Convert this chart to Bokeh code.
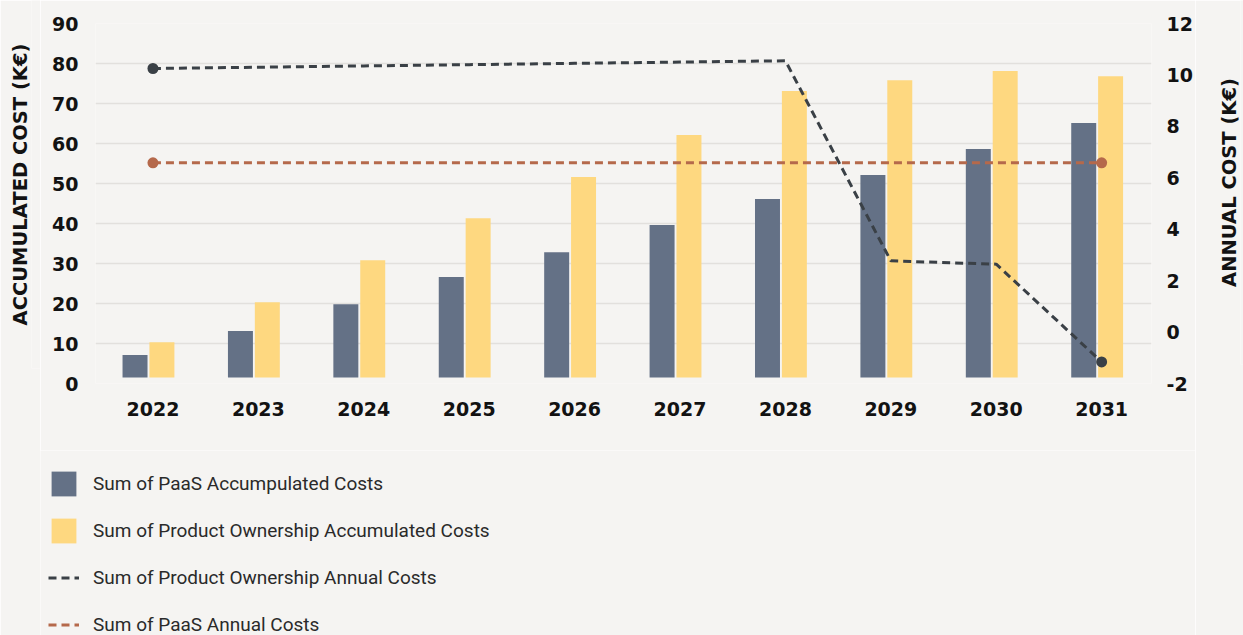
from bokeh.plotting import figure
from bokeh.layouts import column, row
from bokeh.models import (Range1d, LinearAxis, FixedTicker, Legend, LegendItem,
                          ColumnDataSource)
from bokeh.transform import dodge
from bokeh.embed import file_html
from bokeh.resources import INLINE

# ---- data ----
years = [2022, 2023, 2024, 2025, 2026, 2027, 2028, 2029, 2030, 2031]
paas_accumulated = [7.1, 13.1, 19.8, 26.6, 32.8, 39.6, 46.1, 52.1, 58.6, 65.1]
po_accumulated = [10.3, 20.3, 30.8, 41.3, 51.6, 62.1, 73.1, 75.8, 78.1, 76.8]
po_annual = [10.25, 10.3, 10.35, 10.4, 10.45, 10.5, 10.55, 2.77, 2.64, -1.16]
paas_annual = [6.58, 6.58, 6.58, 6.58, 6.58, 6.58, 6.58, 6.58, 6.58, 6.58]
left_ticks = [0, 10, 20, 30, 40, 50, 60, 70, 80, 90]
right_ticks = [-2, 0, 2, 4, 6, 8, 10, 12]
left_title = "ACCUMULATED COST (K€)"
right_title = "ANNUAL COST (K€)"
legend_labels = ["Sum of PaaS Accumpulated Costs",
                 "Sum of Product Ownership Accumulated Costs",
                 "Sum of Product Ownership Annual Costs",
                 "Sum of PaaS Annual Costs"]

# ---- styles ----
BG = "#f5f4f2"
GRID = "#e2e0dd"
C_PAAS = "#647186"
C_PO = "#fed880"
C_DARK = "#3a4046"
C_ORANGE = "#b5694b"
TXT = "#121212"
BOLD_FONT = "DejaVu Sans"
DASH = "8 5"
HAS_FA = hasattr(figure().__class__, "frame_align")

src = ColumnDataSource(dict(year=years, paas_acc=paas_accumulated, po_acc=po_accumulated,
                            po_ann=po_annual, paas_ann=paas_annual))
ends = ColumnDataSource(dict(year=[years[0], years[-1]],
                             po_ann=[po_annual[0], po_annual[-1]],
                             paas_ann=[paas_annual[0], paas_annual[-1]]))


def base(fig):
    fig.background_fill_color = BG
    fig.border_fill_color = BG
    fig.outline_line_color = None
    if HAS_FA:
        fig.frame_align = False
    return fig


# ---- main chart ----
p = figure(width=1155, height=450, output_backend="svg", toolbar_location=None,
           x_range=Range1d(2021.455, 2031.473), y_range=Range1d(left_ticks[0], left_ticks[-1]),
           min_border_left=55, min_border_right=42, min_border_top=23, min_border_bottom=67)
p.background_fill_color = BG
p.border_fill_color = BG
p.outline_line_color = None
p.extra_y_ranges = {"annual": Range1d(right_ticks[0], right_ticks[-1])}

bw = 0.237
p.vbar(x=dodge("year", -0.17), top="paas_acc", bottom=1.5, width=bw, source=src,
       fill_color=C_PAAS, line_color=None)
p.vbar(x=dodge("year", 0.085), top="po_acc", bottom=1.5, width=bw, source=src,
       fill_color=C_PO, line_color=None)
p.line("year", "po_ann", source=src, y_range_name="annual", line_color=C_DARK,
       line_width=3, line_dash=DASH)
p.line("year", "paas_ann", source=src, y_range_name="annual", line_color=C_ORANGE,
       line_width=3, line_dash=DASH)
p.scatter("year", "po_ann", source=ends, y_range_name="annual", size=11,
          fill_color=C_DARK, line_color=None)
p.scatter("year", "paas_ann", source=ends, y_range_name="annual", size=11,
          fill_color=C_ORANGE, line_color=None)

xa = p.xaxis[0]
xa.ticker = FixedTicker(ticks=years)
ya = p.yaxis[0]
ya.ticker = FixedTicker(ticks=left_ticks)
ra = LinearAxis(y_range_name="annual", ticker=FixedTicker(ticks=right_ticks))
ra.major_label_overrides = {t: str(t) for t in right_ticks}
p.add_layout(ra, "right")
for ax, so in ((xa, 18), (ya, 17), (ra, 15)):
    ax.axis_line_color = None
    ax.major_tick_line_color = None
    ax.minor_tick_line_color = None
    ax.major_tick_out = 0
    ax.major_tick_in = 0
    ax.major_label_standoff = so
    ax.major_label_text_font = BOLD_FONT
    ax.major_label_text_font_style = "bold"
    ax.major_label_text_font_size = "19px"
    ax.major_label_text_color = TXT

p.xgrid.grid_line_color = None
p.ygrid.grid_line_color = GRID
p.ygrid.grid_line_width = 1.5
p.ygrid.ticker = FixedTicker(ticks=left_ticks)


# ---- narrow side strips that carry the two axis titles (both read bottom-to-top) ----
def title_strip(text, width, border_left, border_bottom):
    s = base(figure(width=width, height=635, output_backend="svg", toolbar_location=None,
                    x_range=Range1d(0, 1), y_range=Range1d(0, 1),
                    x_axis_location=None, y_axis_location="left",
                    min_border_left=border_left, min_border_right=0,
                    min_border_top=0, min_border_bottom=border_bottom))
    s.grid.visible = False
    ax = s.yaxis[0]
    ax.ticker = FixedTicker(ticks=[])
    ax.axis_line_color = None
    ax.major_tick_line_color = None
    ax.minor_tick_line_color = None
    ax.major_tick_out = 0
    ax.major_label_standoff = 0
    ax.axis_label = text
    ax.axis_label_standoff = 0
    ax.axis_label_text_font = BOLD_FONT
    ax.axis_label_text_font_style = "bold"
    ax.axis_label_text_font_size = "19.5px"
    ax.axis_label_text_color = TXT
    return s


left_strip = title_strip(left_title, 40, 31, 267)
right_strip = title_strip(right_title, 48, 45, 271)

# ---- legend strip below (its glyphs lie outside its view; only the legend shows) ----
q = base(figure(width=1155, height=185, output_backend="svg", toolbar_location=None,
                x_range=Range1d(0, 1), y_range=Range1d(0, 1),
                x_axis_location=None, y_axis_location=None,
                min_border_left=0, min_border_right=0, min_border_top=0, min_border_bottom=0))
q.grid.visible = False
l_paas = q.vbar(x="year", top="paas_acc", width=bw, source=src, fill_color=C_PAAS, line_color=None)
l_po = q.vbar(x="year", top="po_acc", width=bw, source=src, fill_color=C_PO, line_color=None)
l_po_line = q.line("year", "po_ann", source=src, line_color=C_DARK, line_width=3, line_dash=DASH)
l_paas_line = q.line("year", "paas_ann", source=src, line_color=C_ORANGE, line_width=3,
                     line_dash=DASH)

legend = Legend(items=[LegendItem(label=legend_labels[0], renderers=[l_paas]),
                       LegendItem(label=legend_labels[1], renderers=[l_po]),
                       LegendItem(label=legend_labels[2], renderers=[l_po_line]),
                       LegendItem(label=legend_labels[3], renderers=[l_paas_line])],
                location=(8, -4.5), orientation="vertical", padding=0, margin=0,
                spacing=16, glyph_width=31, glyph_height=31, label_standoff=14,
                label_text_font="Roboto", label_text_font_size="19px",
                label_text_color="#2a2a2a", border_line_color=None,
                background_fill_alpha=0)
q.add_layout(legend, "center")

layout = row(left_strip, column(p, q, spacing=0), right_strip, spacing=0)
open("out.html", "w").write(file_html(layout, INLINE))
